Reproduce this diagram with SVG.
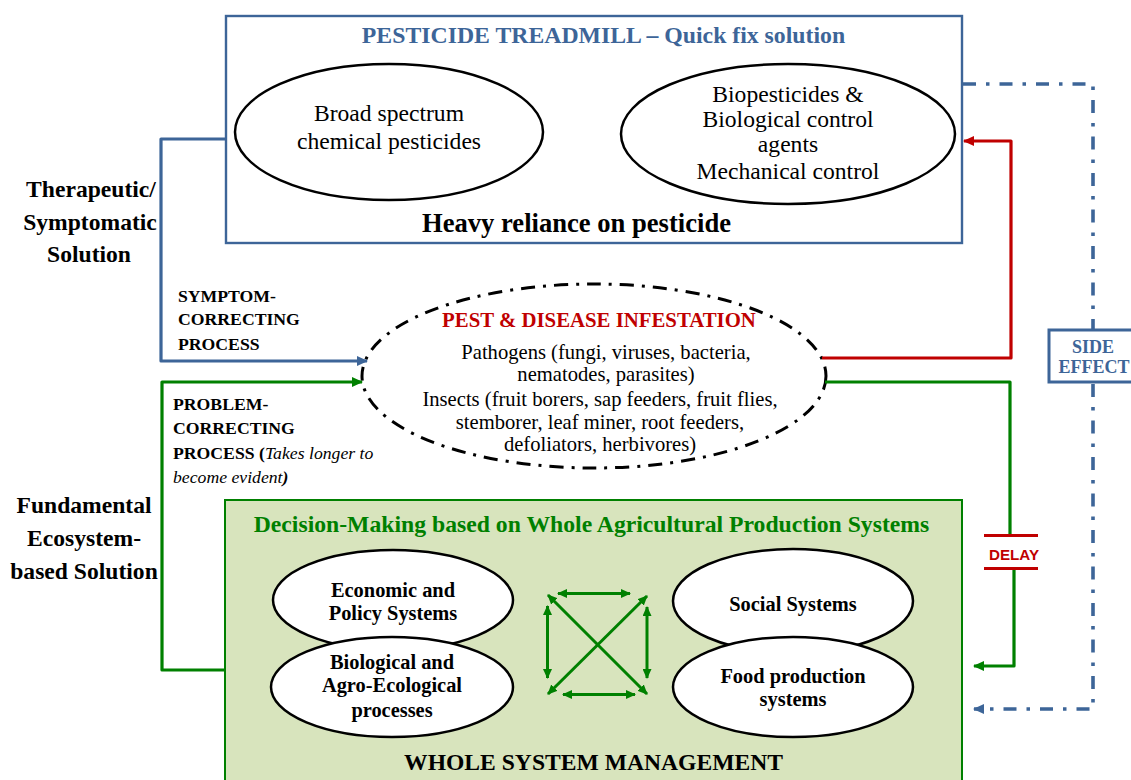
<svg xmlns="http://www.w3.org/2000/svg" width="1131" height="780" viewBox="0 0 1131 780">
<defs>
<marker id="ab" markerUnits="userSpaceOnUse" markerWidth="11" markerHeight="10" refX="10" refY="5" orient="auto"><path d="M0 0L11 5L0 10Z" fill="#3d6598"/></marker>
<marker id="ag" markerUnits="userSpaceOnUse" markerWidth="11" markerHeight="10" refX="10" refY="5" orient="auto"><path d="M0 0L11 5L0 10Z" fill="#008000"/></marker>
<marker id="ar" markerUnits="userSpaceOnUse" markerWidth="11" markerHeight="10" refX="10" refY="5" orient="auto"><path d="M0 0L11 5L0 10Z" fill="#c00000"/></marker>
<marker id="as" markerUnits="userSpaceOnUse" markerWidth="10" markerHeight="9" refX="9" refY="4.500" orient="auto-start-reverse"><path d="M0 0L10 4.500L0 9Z" fill="#008000"/></marker>
</defs>
<style>
text{font-family:"Liberation Serif","Times New Roman",serif;text-anchor:middle;fill:#000}
.b{font-weight:bold}
.c{font-size:23.6px}
.p{font-size:20.6px}
.l{font-size:23.6px;font-weight:bold}
.s{font-size:17.7px;font-weight:bold;text-anchor:start}
.e{fill:#fff;stroke:#000;stroke-width:2.5}
.n{font-size:20.4px;font-weight:bold}
.w{fill:none;stroke-width:3.2;stroke-linejoin:round}
.d{stroke-width:3.6;stroke-dasharray:13 10 3.5 10}
.g{stroke:#008000}.bl{stroke:#3d6598}.r{stroke:#c00000}
.t{fill:none;stroke:#008000;stroke-width:3}
</style>
<g id="treadmill">
<rect x="226" y="16" width="736" height="227" fill="#fff" stroke="#3d6598" stroke-width="2.4"/>
<text x="603.500" y="43" font-size="23.750" class="b" style="fill:#3d6598">PESTICIDE TREADMILL – Quick fix solution</text>
<text x="576.500" y="232" font-size="26.600" class="b">Heavy reliance on pesticide</text>
</g>
<g id="chemical"><ellipse class="e" cx="389" cy="132" rx="154" ry="68"/>
<text class="c" x="389" y="121">Broad spectrum</text><text class="c" x="389" y="149">chemical pesticides</text></g>
<g id="bio"><ellipse class="e" cx="788" cy="134" rx="167" ry="70"/>
<text class="c" x="788" y="102">Biopesticides &amp;</text><text class="c" x="788" y="127">Biological control</text><text class="c" x="788" y="152">agents</text><text class="c" x="788" y="179">Mechanical control</text></g>
<g id="infestation"><ellipse cx="594" cy="376" rx="232" ry="92" fill="#fff" stroke="#000" stroke-width="3" stroke-dasharray="14 8 3 8"/>
<text x="599" y="327" font-size="20.800" class="b" style="fill:#c00000">PEST &amp; DISEASE INFESTATION</text>
<text class="p" x="606" y="359">Pathogens (fungi, viruses, bacteria,</text>
<text class="p" x="606" y="381">nematodes, parasites)</text>
<text class="p" x="600" y="406">Insects (fruit borers, sap feeders, fruit flies,</text>
<text class="p" x="600" y="429">stemborer, leaf miner, root feeders,</text>
<text class="p" x="600" y="451">defoliators, herbivores)</text></g>
<g id="connectors">
<path class="w bl" d="M226 139H161V361H367" marker-end="url(#ab)"/>
<path class="w g" d="M225 670H162V382H362" marker-end="url(#ag)"/>
<path class="w r" d="M822 358H1011V141H964" marker-end="url(#ar)"/>
<path class="w g" d="M825 382H1010V534"/>
<path class="w g" d="M1014 570V666H974" marker-end="url(#ag)"/>
<path class="w bl d" d="M963 84H1093V329"/>
<path class="w bl d" d="M1093 384V709H974" marker-end="url(#ab)"/>
</g>
<g id="labels">
<text class="l" x="91" y="197">Therapeutic/</text><text class="l" x="90" y="230">Symptomatic</text><text class="l" x="89" y="262">Solution</text>
<text class="l" x="84" y="513">Fundamental</text><text class="l" x="84" y="546">Ecosystem-</text><text class="l" x="84" y="579">based Solution</text>
<text class="s" x="178" y="302">SYMPTOM-</text><text class="s" x="178" y="325">CORRECTING</text><text class="s" x="178" y="350">PROCESS</text>
<text class="s" x="173" y="410">PROBLEM-</text><text class="s" x="173" y="434">CORRECTING</text>
<text class="s" x="173" y="459">PROCESS (<tspan font-weight="normal" font-style="italic">Takes longer to</tspan></text>
<text class="s" x="173" y="483"><tspan font-weight="normal" font-style="italic">become evident</tspan><tspan font-style="italic">)</tspan></text>
</g>
<g id="side-effect"><rect x="1049" y="330" width="90" height="52" fill="#fff" stroke="#3d6598" stroke-width="3"/>
<text x="1093" y="353" font-size="18" class="b" style="fill:#3d6598">SIDE</text><text x="1094" y="373" font-size="18" class="b" style="fill:#3d6598">EFFECT</text></g>
<g id="delay"><path d="M984 535.500H1038M984 568.500H1038" stroke="#c00000" stroke-width="3" fill="none"/>
<text x="1014" y="560" font-size="15.200" style="font-family:'Liberation Sans',Arial,sans-serif;font-weight:bold;fill:#c00000">DELAY</text></g>
<g id="whole-system">
<rect x="225" y="500" width="737" height="290" fill="#d8e4bd" stroke="#008000" stroke-width="2"/>
<text x="591.500" y="532" font-size="23.700" class="b" style="fill:#008000">Decision-Making based on Whole Agricultural Production Systems</text>
<text x="593.500" y="770" font-size="23.600" class="b">WHOLE SYSTEM MANAGEMENT</text>
</g>
<g id="economic"><ellipse class="e" cx="393" cy="600" rx="120" ry="50"/><text class="n" x="393" y="597">Economic and</text><text class="n" x="393" y="620">Policy Systems</text></g>
<g id="social"><ellipse class="e" cx="793" cy="601" rx="120" ry="52"/><text class="n" x="793" y="611">Social Systems</text></g>
<g id="biological"><ellipse class="e" cx="392" cy="687" rx="121" ry="50"/><text class="n" x="392" y="669">Biological and</text><text class="n" x="392" y="692">Agro-Ecological</text><text class="n" x="392" y="717">processes</text></g>
<g id="food"><ellipse class="e" cx="793" cy="687" rx="120" ry="50"/><text class="n" x="793" y="683">Food production</text><text class="n" x="793" y="706">systems</text></g>
<g id="cycle-arrows">
<path class="t" d="M558 593.500H630" marker-start="url(#as)" marker-end="url(#as)"/>
<path class="t" d="M563 694.500H635" marker-start="url(#as)" marker-end="url(#as)"/>
<path class="t" d="M547.500 606V678" marker-start="url(#as)" marker-end="url(#as)"/>
<path class="t" d="M647 607V678" marker-start="url(#as)" marker-end="url(#as)"/>
<path class="t" d="M548 595L647 694" marker-start="url(#as)" marker-end="url(#as)"/>
<path class="t" d="M647 596L548 694" marker-start="url(#as)" marker-end="url(#as)"/>
</g>
</svg>
